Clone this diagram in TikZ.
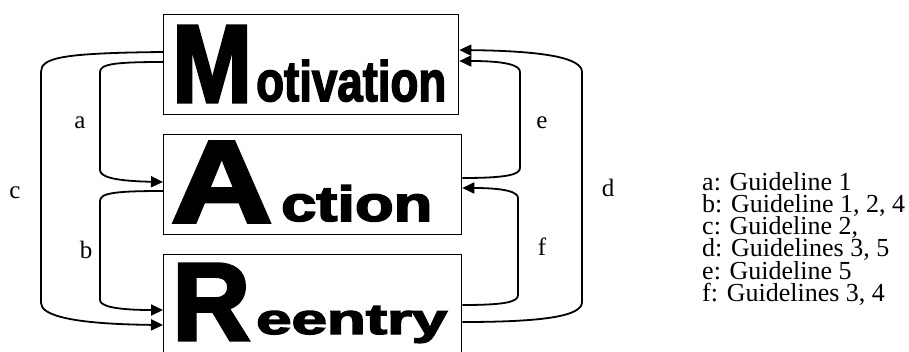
\documentclass[tikz,border=0pt]{standalone}
\usepackage{fontspec}
\setmainfont{Liberation Serif}
\newfontfamily\blk[FakeBold=3]{Liberation Sans}
\usetikzlibrary{arrows.meta}
\tikzset{
  box/.style={draw, line width=1.3pt, anchor=north west, inner sep=0pt},
  conn/.style={line width=1.8pt, -{Triangle[length=12pt,width=11pt]}},
  big/.style={anchor=base west, inner sep=0pt, font=\blk\bfseries},
  lbl/.style={font=\fontsize{25}{25}\selectfont, inner sep=0pt},
  leg/.style={anchor=base west, inner sep=0pt, font=\fontsize{26}{22.3}\selectfont}
}
\begin{document}
\begin{tikzpicture}[x=1pt,y=-1pt]
\useasboundingbox (0,0) rectangle (909,351);
\clip (0,0) rectangle (909,351);
% boxes
\node[box, minimum width=295pt, minimum height=100pt] (mot) at (163,14) {};
\node[box, minimum width=298pt, minimum height=100pt] (act) at (163,134) {};
\node[box, minimum width=298pt, minimum height=115pt] (ree) at (163,254) {};
% box texts
\node[big] (tM) at (172,102) {\resizebox{80pt}{76pt}{M}};
\node[big] (tM2) at (256,101) {\resizebox{190pt}{41pt}{otivation}};
\node[big] (tA) at (171,222) {\resizebox{101pt}{80pt}{A}};
\node[big] (tA2) at (281,221) {\resizebox{151pt}{36pt}{ction}};
\node[big] (tR) at (172,340) {\resizebox{78pt}{76pt}{R}};
\node[big] (tR2) at (256,334) {\resizebox{191pt}{28pt}{eentry}};
% left connectors
\draw[conn] (mot.west |- 0,52) .. controls (60,53) and (41,58) .. (41,72)
  -- (41,303) .. controls (41,315) and (70,324) .. (ree.west |- 0,325);
\draw[conn] (mot.west |- 0,62) .. controls (115,62) and (100,64) .. (100,72)
  -- (100,170) .. controls (100,177) and (115,181) .. (act.west |- 0,182);
\draw[conn] (act.west |- 0,191) .. controls (115,191) and (100,193) .. (100,201)
  -- (100,300) .. controls (100,306) and (115,310) .. (ree.west |- 0,310);
% right connectors
\draw[conn] (ree.east |- 0,322) .. controls (545,322) and (582,316) .. (582,302)
  -- (582,72) .. controls (582,58) and (545,51) .. (mot.east |- 0,50);
\draw[conn] (act.east |- 0,178) .. controls (505,178) and (520,175) .. (520,168)
  -- (520,72) .. controls (520,65) and (505,61) .. (mot.east |- 0,61);
\draw[conn] (ree.east |- 0,305) .. controls (505,305) and (518,302) .. (518,295)
  -- (518,198) .. controls (518,192) and (505,188) .. (act.east |- 0,188);
% connector labels
\node[lbl] (la) at (80,123) {a};
\node[lbl] (lb) at (86,250) {b};
\node[lbl] (lc) at (15,193) {c};
\node[lbl] (ld) at (608,188) {d};
\node[lbl] (le) at (542,123) {e};
\node[lbl] (lf) at (542,247) {f};
% legend
\node[leg] (legend) at (702,190) {\vtop{\baselineskip=22.3pt\lineskiplimit=-60pt\lineskip=0pt
  \hbox{a: Guideline 1}
  \hbox{b: Guideline 1, 2, 4}
  \hbox{c: Guideline 2,}
  \hbox{d: Guidelines 3, 5}
  \hbox{e: Guideline 5}
  \hbox{f: Guidelines 3, 4}}};
\end{tikzpicture}
\end{document}
